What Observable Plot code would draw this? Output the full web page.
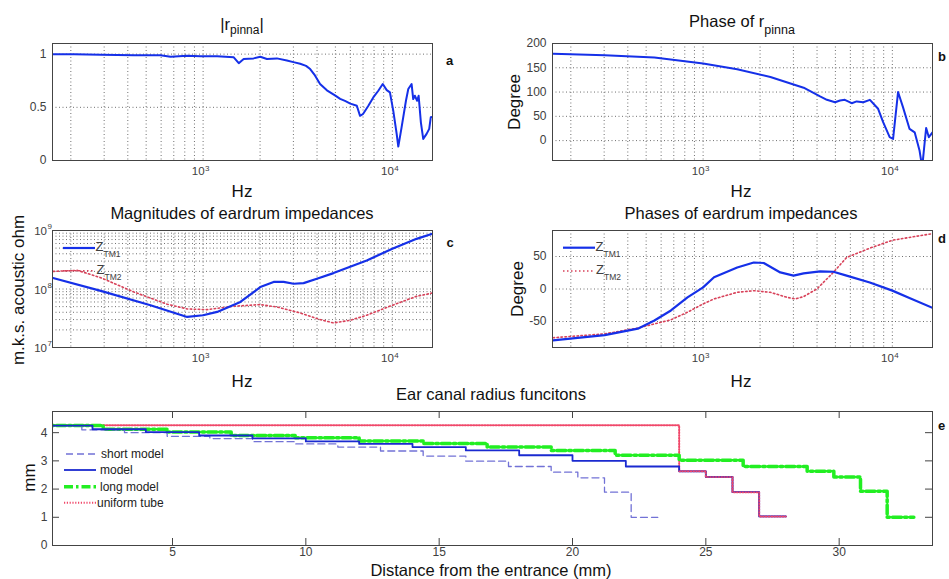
<!DOCTYPE html>
<html><head><meta charset="utf-8">
<script src="https://cdn.jsdelivr.net/npm/d3@7"></script>
<script src="https://cdn.jsdelivr.net/npm/@observablehq/plot@0.6"></script>
<style>
html,body{margin:0;padding:0;background:#fff;overflow:hidden}
#root{position:relative;width:949px;height:579px;overflow:hidden;font-family:"Liberation Sans",Arial,sans-serif;background:#fff}
.panel{position:absolute}
.panel svg{overflow:visible;display:block}
#overlay{position:absolute;left:0;top:0;pointer-events:none}
</style></head><body><div id="root"></div>
<script>
// ---------------- DATA ----------------
// Panel a: |r_pinna|
const freqA = [161, 208, 288, 431, 595, 673, 824, 968, 1186, 1452, 1543, 1638, 1849, 2005, 2174, 2454, 2771, 3000, 3258, 3500, 3679, 3900, 4150, 4510, 5000, 5300, 5620, 6000, 6490, 6750, 7000, 7470, 7930, 8430, 8900, 9340, 9710, 10110, 10540, 10750, 11190, 11800, 12140, 12640, 12890, 13150, 13520, 13770, 14150, 14560, 15170, 15660, 15960, 16300];
const magA = [1.0, 1.0, 0.995, 0.99, 0.99, 0.975, 0.985, 0.98, 0.98, 0.97, 0.915, 0.955, 0.96, 0.975, 0.955, 0.96, 0.94, 0.925, 0.91, 0.89, 0.86, 0.8, 0.72, 0.66, 0.61, 0.58, 0.56, 0.535, 0.515, 0.42, 0.437, 0.515, 0.593, 0.656, 0.719, 0.662, 0.64, 0.469, 0.25, 0.131, 0.312, 0.562, 0.672, 0.719, 0.578, 0.609, 0.562, 0.609, 0.359, 0.203, 0.25, 0.297, 0.406, 0.41];
// Panel b: phase of r_pinna
const freqB = [161, 302, 553, 1000, 1514, 2268, 3398, 4150, 4510, 4980, 5290, 5610, 6100, 6480, 7020, 7610, 8410, 8940, 9680, 10090, 10720, 11380, 12330, 13120, 13930, 14380, 14790, 15090, 15590, 16300];
const phaseB = [179, 176, 171, 159, 147, 131, 109, 91, 84, 79, 82.7, 84, 77, 80.7, 79, 84, 65.5, 38, 7, 3.4, 100, 69, 24, 17, -21, -55, -7, 26, 7, 17];
// Panel c: magnitudes of eardrum impedances
const freqC1 = [161, 288, 527, 824, 1000, 1186, 1574, 2005, 2358, 2663, 3007, 3396, 3993, 4887, 7325, 10000, 13430, 16300];
const zMagTM1 = [1.54e8, 9.3e7, 5.27e7, 3.33e7, 3.56e7, 4.06e7, 6.0e7, 1.08e8, 1.32e8, 1.32e8, 1.23e8, 1.26e8, 1.5e8, 1.87e8, 3.08e8, 4.87e8, 7.2e8, 8.8e8];
const freqC2 = [161, 217, 288, 431, 646, 824, 1050, 1452, 2005, 2454, 3258, 4155, 4887, 5980, 7325, 10000, 13430, 16300];
const zMagTM2 = [2.0e8, 2.08e8, 1.56e8, 8.9e7, 5.5e7, 4.56e7, 4.44e7, 5.07e7, 5.41e7, 4.93e7, 3.9e7, 3.0e7, 2.63e7, 2.92e7, 3.56e7, 5.27e7, 7.5e7, 8.55e7];
// Panel d: phases of eardrum impedances
const freqD1 = [161, 302, 452, 553, 676, 827, 1000, 1142, 1514, 1853, 2091, 2558, 3005, 3398, 4153, 4878, 5732, 7602, 10000, 12310, 16300];
const zPhTM1 = [-79, -71, -61, -48.5, -33, -13, 2.5, 18, 33, 40.8, 40, 25.5, 20.5, 24, 27, 26.5, 20.5, 10, -2.5, -14, -29];
const freqD2 = [161, 302, 452, 676, 827, 1000, 1142, 1514, 1853, 2268, 2775, 3069, 3398, 3990, 4878, 5732, 7602, 10000, 16300];
const zPhTM2 = [-75, -69, -60, -47.4, -35.7, -23, -15.3, -5.1, -2.6, -5.1, -12.8, -15.3, -11.7, 0, 25.5, 48.5, 62.8, 75, 85.2];
// Panel e: ear canal radius functions (step boundaries, mm / radius, mm)
const shortX = [0, 1.6, 3.2, 4.8, 6.4, 8.0, 9.6, 11.2, 12.8, 14.4, 16.0, 17.6, 19.2, 20.2, 21.2, 22.2, 23.2];
const shortR = [4.25, 4.1, 4.0, 3.87, 3.79, 3.68, 3.6, 3.49, 3.35, 3.17, 2.99, 2.8, 2.6, 2.4, 1.89, 1.0, 1.0];
const modelX = [0, 2, 4, 6, 8, 10, 12, 14, 16, 18, 20, 22, 24, 25, 26, 27, 28];
const modelR = [4.25, 4.12, 4.02, 3.9, 3.8, 3.69, 3.6, 3.49, 3.37, 3.2, 3.0, 2.8, 2.63, 2.43, 1.89, 1.03, 1.03];
const longX = [0, 2.4, 4.8, 7.2, 9.6, 12.0, 14.4, 16.8, 19.2, 21.6, 24.0, 26.4, 28.8, 29.8, 30.8, 31.8, 32.8];
const longR = [4.25, 4.12, 4.02, 3.9, 3.82, 3.7, 3.62, 3.49, 3.37, 3.2, 3.02, 2.8, 2.63, 2.43, 1.92, 1.0, 1.0];
const tubeX = [0, 24, 25, 26, 27, 28];
const tubeR = [4.26, 2.63, 2.43, 1.89, 1.03, 1.03];
// Ticks and grid
const xGrid = [200, 300, 400, 500, 600, 700, 800, 900, 1000, 2000, 3000, 4000, 5000, 6000, 7000, 8000, 9000, 10000];
const xDecades = [1000, 10000];
const xDecadeExp = ["3", "4"];
const yTicksA = [0, 0.5, 1];
const yTicksB = [0, 50, 100, 150, 200];
const yGridC = [2e7, 3e7, 4e7, 5e7, 6e7, 7e7, 8e7, 9e7, 1e8, 2e8, 3e8, 4e8, 5e8, 6e8, 7e8, 8e8, 9e8];
const yDecadesC = [1e7, 1e8, 1e9];
const yDecadeExpC = ["7", "8", "9"];
const yTicksD = [-50, 0, 50];
const xTicksE = [5, 10, 15, 20, 25, 30];
const yTicksE = [0, 1, 2, 3, 4];

// ---------------- STYLE ----------------
const FONT = '"Liberation Sans", Arial, Helvetica, sans-serif';
const BLUE = "#1530e8";
const RED = "#d8425a";
const GRID = {stroke: "#707070", strokeOpacity: 1, strokeDasharray: "1,2.5", strokeWidth: 1};
const ML = 50, MR = 6, MT = 4, MB = 30;
const LOGX = {type: "log", domain: [160, 16300], axis: null};
const root = document.getElementById("root");
const fmt = d => String(d);

function mkPanel(fx, fy, fw, fh, opts) {
  const chart = Plot.plot({
    width: fw + ML + MR, height: fh + MT + MB,
    marginLeft: ML, marginRight: MR, marginTop: MT, marginBottom: MB,
    style: {fontFamily: FONT, fontSize: "12px", color: "#404040", background: "transparent", overflow: "visible"},
    ...opts
  });
  const d = document.createElement("div");
  d.className = "panel";
  d.style.left = (fx - ML) + "px";
  d.style.top = (fy - MT) + "px";
  d.appendChild(chart);
  root.appendChild(d);
  return chart;
}
function decadeLabelsX() {
  return [
    Plot.text(xDecades, {x: d => d, frameAnchor: "bottom", text: () => "10", textAnchor: "end", dx: 1.5, dy: 14.5, fontSize: 11.5, fill: "#404040"}),
    Plot.text(xDecades, {x: d => d, frameAnchor: "bottom", text: (d, i) => xDecadeExp[i], textAnchor: "start", dx: 1.8, dy: 10, fontSize: 8, fill: "#404040"})
  ];
}
const ytickStyle = {tickSize: 0, tickPadding: 6, tickFormat: fmt, fontSize: 12};

// Panel a
mkPanel(52, 43, 380, 117, {
  x: LOGX, y: {domain: [0, 1.1], axis: null},
  marks: [
    Plot.gridX(xGrid, GRID),
    Plot.gridY(yTicksA, GRID),
    Plot.line(freqA, {x: freqA, y: magA, stroke: BLUE, strokeWidth: 2, clip: true}),
    Plot.frame({stroke: "#444"}),
    Plot.axisY(yTicksA, ytickStyle),
    ...decadeLabelsX()
  ]
});
// Panel b
mkPanel(552, 43, 380, 117, {
  x: LOGX, y: {domain: [-41, 200], axis: null},
  marks: [
    Plot.gridX(xGrid, GRID),
    Plot.gridY(yTicksB, GRID),
    Plot.line(freqB, {x: freqB, y: phaseB, stroke: BLUE, strokeWidth: 2, clip: true}),
    Plot.frame({stroke: "#444"}),
    Plot.axisY(yTicksB, ytickStyle),
    ...decadeLabelsX()
  ]
});
// Panel c
mkPanel(52, 230, 380, 117, {
  x: LOGX, y: {type: "log", domain: [1e7, 1e9], axis: null},
  marks: [
    Plot.gridX(xGrid, GRID),
    Plot.gridY(yGridC, GRID),
    Plot.line(freqC2, {x: freqC2, y: zMagTM2, stroke: RED, strokeWidth: 1.6, strokeDasharray: "1.5,2.5", clip: true}),
    Plot.line(freqC1, {x: freqC1, y: zMagTM1, stroke: BLUE, strokeWidth: 2.2, clip: true}),
    Plot.frame({stroke: "#444"}),
    Plot.text(yDecadesC, {y: d => d, frameAnchor: "left", text: () => "10", textAnchor: "end", dx: -5.5, dy: 1, fontSize: 11.5, fill: "#404040"}),
    Plot.text(yDecadesC, {y: d => d, frameAnchor: "left", text: (d, i) => yDecadeExpC[i], textAnchor: "start", dx: -5, dy: -4, fontSize: 8, fill: "#404040"}),
    ...decadeLabelsX()
  ]
});
// Panel d
mkPanel(552, 230, 380, 117, {
  x: LOGX, y: {domain: [-90, 90], axis: null},
  marks: [
    Plot.gridX(xGrid, GRID),
    Plot.gridY(yTicksD, GRID),
    Plot.line(freqD2, {x: freqD2, y: zPhTM2, stroke: RED, strokeWidth: 1.6, strokeDasharray: "1.5,2.5", clip: true}),
    Plot.line(freqD1, {x: freqD1, y: zPhTM1, stroke: BLUE, strokeWidth: 2.2, clip: true}),
    Plot.frame({stroke: "#444"}),
    Plot.axisY(yTicksD, ytickStyle),
    ...decadeLabelsX()
  ]
});
// Panel e
const EW = 880, EH = 134;
mkPanel(52, 411, EW, EH, {
  x: {domain: [0.5, 33.5], axis: null},
  y: {domain: [0, 4.75], axis: null},
  marks: [
    Plot.line(tubeX, {x: tubeX, y: tubeR, curve: "step-after", stroke: "#f0486a", strokeWidth: 2, strokeDasharray: "1.2,1.6", clip: true}),
    Plot.line(longX, {x: longX, y: longR, curve: "step-after", stroke: "#22ee22", strokeWidth: 3.5, strokeDasharray: "9,3,2.5,3", clip: true}),
    Plot.line(shortX, {x: shortX, y: shortR, curve: "step-after", stroke: "#7272d6", strokeWidth: 1.3, strokeDasharray: "7,4", clip: true}),
    Plot.line(modelX, {x: modelX, y: modelR, curve: "step-after", stroke: "#1a2ad0", strokeWidth: 1.8, clip: true}),
    Plot.line(tubeX.slice(1), {x: tubeX.slice(1), y: tubeR.slice(1), curve: "step-after", stroke: "#f0486a", strokeWidth: 1.6, strokeDasharray: "1.2,1.6", clip: true}),
    Plot.frame({stroke: "#444"}),
    Plot.tickX(xTicksE, {x: d => d, insetTop: EH - 7, stroke: "#444"}),
    Plot.tickX(xTicksE, {x: d => d, insetBottom: EH - 7, stroke: "#444"}),
    Plot.tickY(yTicksE, {y: d => d, insetRight: EW - 7, stroke: "#444"}),
    Plot.tickY(yTicksE, {y: d => d, insetLeft: EW - 7, stroke: "#444"}),
    Plot.axisX(xTicksE, {tickSize: 0, tickPadding: 2, tickFormat: fmt, fontSize: 12}),
    Plot.axisY(yTicksE, {tickSize: 0, tickPadding: 5, tickFormat: fmt, fontSize: 12})
  ]
});

// ---------------- TEXT OVERLAY ----------------
const ov = `
<svg id="overlay" width="949" height="579" xmlns="http://www.w3.org/2000/svg" font-family='${FONT}'>
 <g fill="#111" font-size="16.5" text-anchor="middle">
  <text x="242" y="30">|r<tspan font-size="12" dy="4">pinna</tspan><tspan dy="-4">|</tspan></text>
  <text x="742" y="27">Phase of r<tspan font-size="12.5" dy="6.5">pinna</tspan></text>
  <text x="242" y="219">Magnitudes of eardrum impedances</text>
  <text x="741" y="219">Phases of eardrum impedances</text>
  <text x="491" y="400">Ear canal radius funcitons</text>
 </g>
 <g fill="#111" font-size="17" text-anchor="middle">
  <text x="242" y="197">Hz</text>
  <text x="741" y="197">Hz</text>
  <text x="242" y="386.5">Hz</text>
  <text x="741" y="386.5">Hz</text>
  <text x="491" y="575.5" font-size="16.5">Distance from the entrance (mm)</text>
  <text transform="translate(519.5,102) rotate(-90)">Degree</text>
  <text transform="translate(522.5,289) rotate(-90)">Degree</text>
  <text transform="translate(23.5,290) rotate(-90)">m.k.s. acoustic ohm</text>
  <text transform="translate(34.5,477.5) rotate(-90)">mm</text>
 </g>
 <g fill="#111" font-size="13" font-weight="bold">
  <text x="446" y="65">a</text>
  <text x="938" y="61">b</text>
  <text x="446.5" y="247">c</text>
  <text x="938" y="243">d</text>
  <text x="938" y="430">e</text>
 </g>
 <g>
  <line x1="63" x2="95" y1="248" y2="248" stroke="${BLUE}" stroke-width="2.2"/>
  <line x1="63" x2="95" y1="270.7" y2="270.7" stroke="${RED}" stroke-width="1.6" stroke-dasharray="1.5,2.5"/>
  <line x1="563" x2="595" y1="247.7" y2="247.7" stroke="${BLUE}" stroke-width="2.2"/>
  <line x1="563" x2="595" y1="271" y2="271" stroke="${RED}" stroke-width="1.6" stroke-dasharray="1.5,2.5"/>
 </g>
 <g fill="#404040" font-size="13">
  <text x="95.5" y="250.5">Z<tspan font-size="8.5" dy="6">TM1</tspan></text>
  <text x="96.5" y="273.5">Z<tspan font-size="8.5" dy="6">TM2</tspan></text>
  <text x="595.5" y="251">Z<tspan font-size="8.5" dy="6">TM1</tspan></text>
  <text x="596" y="273.5">Z<tspan font-size="8.5" dy="6">TM2</tspan></text>
 </g>
 <g>
  <line x1="66" x2="96" y1="454" y2="454" stroke="#7272d6" stroke-width="1.3" stroke-dasharray="7,4"/>
  <line x1="64" x2="96" y1="470" y2="470" stroke="#1a2ad0" stroke-width="1.8"/>
  <line x1="64" x2="96" y1="486.7" y2="486.7" stroke="#22ee22" stroke-width="3.5" stroke-dasharray="9,3,2.5,3"/>
  <line x1="64" x2="97" y1="502.7" y2="502.7" stroke="#f0486a" stroke-width="2" stroke-dasharray="1.2,1.6"/>
 </g>
 <g fill="#222" font-size="12">
  <text x="101" y="458">short model</text>
  <text x="100" y="474">model</text>
  <text x="100" y="490.5">long model</text>
  <text x="97" y="507">uniform tube</text>
 </g>
</svg>`;
root.insertAdjacentHTML("beforeend", ov);
</script>
</body></html>
